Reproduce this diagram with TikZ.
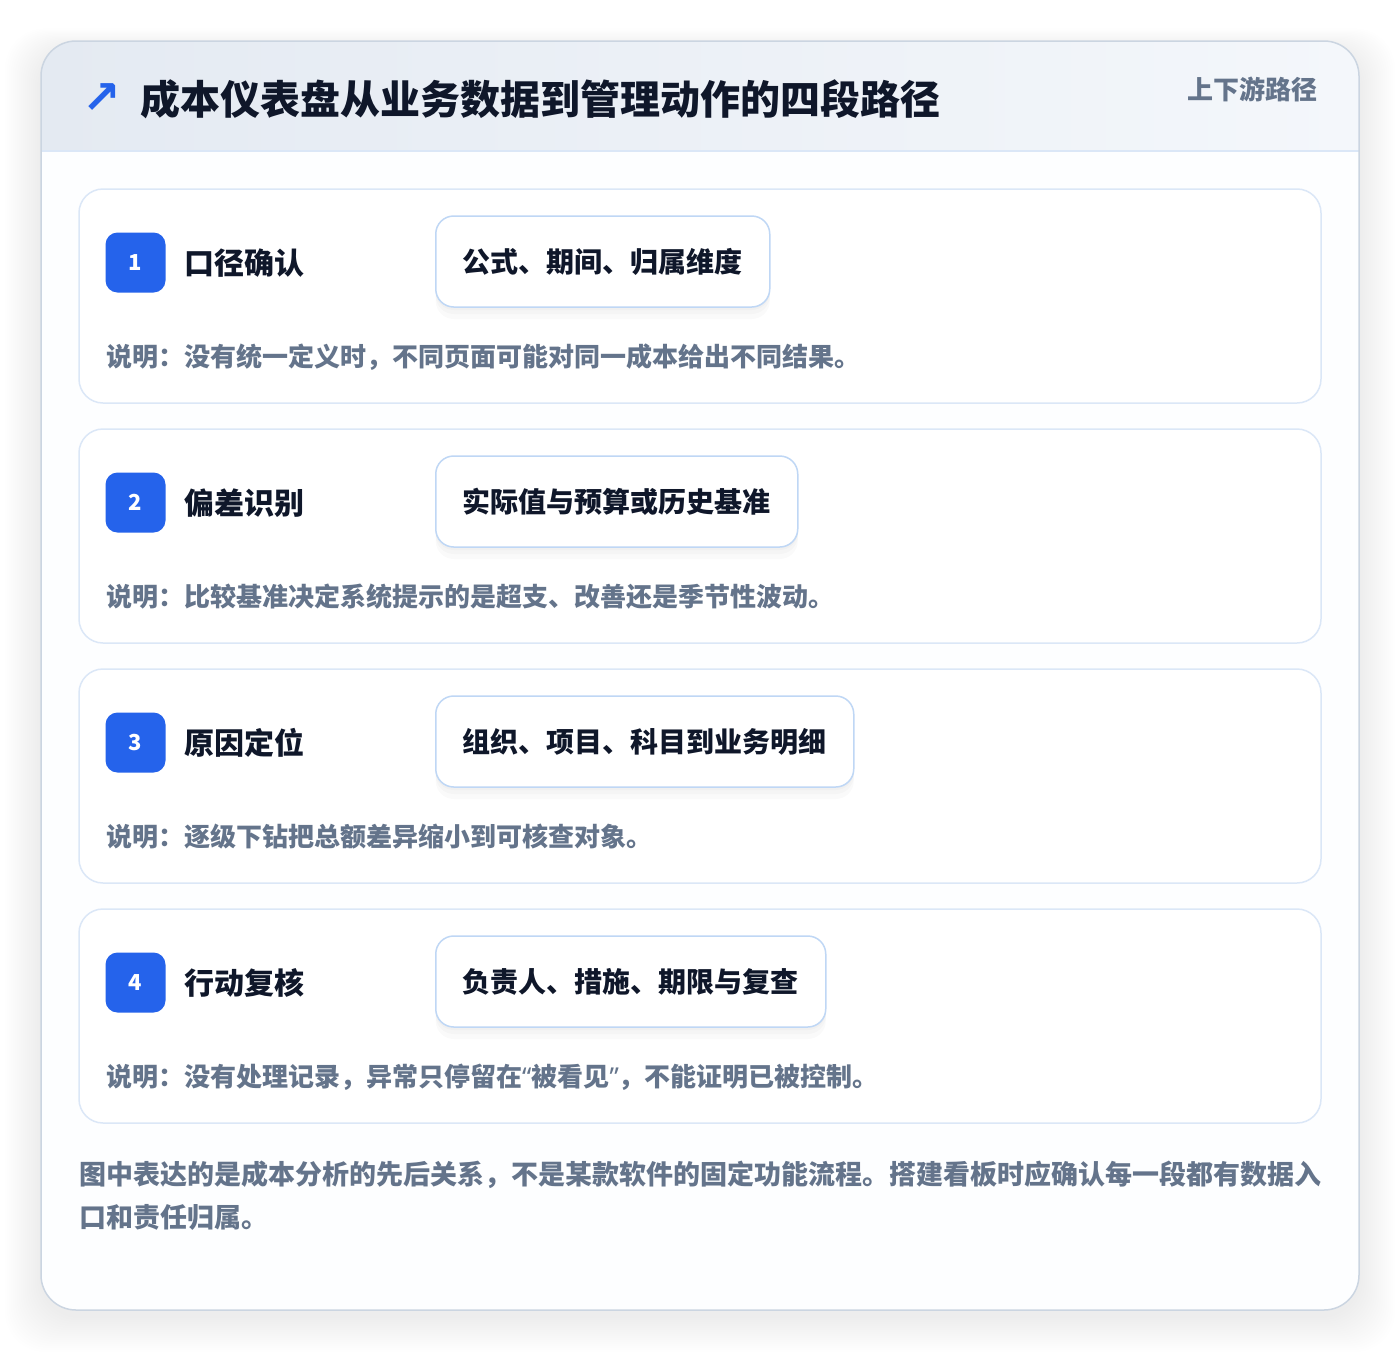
\documentclass[tikz,border=0pt]{standalone}
\usepackage{fontspec}
\newfontfamily\cjk{Noto Sans CJK SC}
\newfontfamily\symb{DejaVu Sans}
\newfontfamily\latin{Noto Sans}
\definecolor{inkdark}{HTML}{0F172A}
\definecolor{inkgray}{HTML}{64748B}
\definecolor{brandblue}{HTML}{2563EB}
\definecolor{outerline}{HTML}{CBD5E1}
\definecolor{cardline}{HTML}{DBE7F7}
\definecolor{pillline}{HTML}{BFD7F5}
\definecolor{hdrleft}{HTML}{E4EAF2}
\definecolor{hdrright}{HTML}{F4F7FB}
\definecolor{bodyfill}{HTML}{FDFEFF}
\begin{document}
\begin{tikzpicture}[x=1pt,y=-1pt,font=\cjk\bfseries]
	\tikzstyle{card}=[draw=cardline,line width=1.5pt,fill=white,rounded corners=24pt]
	\tikzstyle{badge}=[fill=brandblue,rounded corners=12pt,minimum size=60pt,inner sep=0pt,text=white,font=\cjk\bfseries\fontsize{22}{26}\selectfont]
	\tikzstyle{steptitle}=[anchor=west,inner sep=0pt,text=inkdark,font=\cjk\bfseries\fontsize{30}{36}\selectfont]
	\tikzstyle{pill}=[anchor=west,draw=pillline,line width=1.5pt,fill=white,rounded corners=18pt,minimum height=91pt,inner xsep=27pt,text=inkdark,font=\cjk\bfseries\fontsize{28}{34}\selectfont,
		preaction={fill=black,opacity=0.02,transform canvas={yshift=-12pt}},
		preaction={fill=black,opacity=0.02,transform canvas={yshift=-7pt}},
		preaction={fill=black,opacity=0.02,transform canvas={yshift=-3pt}}]
	\tikzstyle{note}=[anchor=west,inner sep=0pt,text=inkgray,font=\cjk\bfseries\fontsize{26}{30}\selectfont]
	\tikzstyle{remark}=[anchor=west,inner sep=0pt,text=inkgray,font=\cjk\bfseries\fontsize{27}{42}\selectfont]
	\useasboundingbox (0,0) rectangle (1400,1352);
	\fill[white] (0,0) rectangle (1400,1352);
	% soft shadow of the panel
	\foreach \k in {2,4,...,36}
		\fill[black,opacity=0.004,rounded corners=40pt] (41-\k,50-\k*0.6) rectangle (1359+\k,1316+\k);
	% panel
	\fill[bodyfill,rounded corners=35pt] (41,41) rectangle (1359,1310);
	\begin{scope}
		\clip[rounded corners=35pt] (41,41) rectangle (1359,1310);
		\shade[left color=hdrleft,right color=hdrright] (41,41) rectangle (1359,151);
	\end{scope}
	\draw[cardline,line width=1.5pt] (41,151) -- (1359,151);
	\draw[outerline,line width=1.5pt,rounded corners=35pt] (41,41) rectangle (1359,1310);
	% header
	\node[anchor=center,inner sep=0pt,text=brandblue,font=\symb\bfseries\fontsize{46}{50}\selectfont] (icon) at (102,99) {↗};
	\node[anchor=west,inner sep=0pt,text=inkdark,font=\cjk\bfseries\fontsize{40}{48}\selectfont] (title) at (140,99) {成本仪表盘从业务数据到管理动作的四段路径};
	\node[anchor=east,inner sep=0pt,text=inkgray,font=\cjk\bfseries\fontsize{26}{30}\selectfont] (tag) at (1318,89) {上下游路径};
	% four stages
	\foreach \i/\name/\pilltext/\notetext in {
		1/口径确认/{公式、期间、归属维度}/{说明：没有统一定义时，不同页面可能对同一成本给出不同结果。},
		2/偏差识别/{实际值与预算或历史基准}/{说明：比较基准决定系统提示的是超支、改善还是季节性波动。},
		3/原因定位/{组织、项目、科目到业务明细}/{说明：逐级下钻把总额差异缩小到可核查对象。},
		4/行动复核/{负责人、措施、期限与复查}/{说明：没有处理记录，异常只停留在{\latin “}被看见{\latin ”}，不能证明已被控制。}}{
		\pgfmathsetmacro{\top}{189+240*(\i-1)}
		\draw[card] (79,\top) rectangle (1321,\top+214);
		\node[badge] (badge_\i) at (135.5,\top+73.5) {\i};
		\node[steptitle] (stage_\i) at (184,\top+74) {\name};
		\node[pill] (pill_\i) at (435,\top+72.5) {\pilltext};
		\node[note] (note_\i) at (106,\top+168) {\notetext};
	}
	% closing remark
	\node[remark] (remark1) at (79,1175) {图中表达的是成本分析的先后关系，不是某款软件的固定功能流程。搭建看板时应确认每一段都有数据入};
	\node[remark] (remark2) at (79,1217) {口和责任归属。};
\end{tikzpicture}
\end{document}
